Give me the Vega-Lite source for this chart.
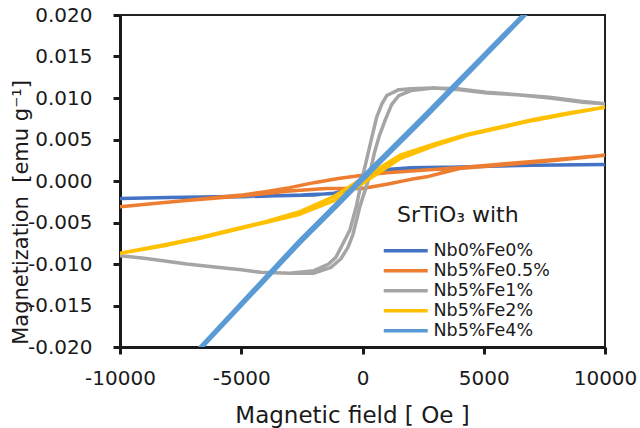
{
  "$schema": "https://vega.github.io/schema/vega-lite/v6.json",
  "width": 485,
  "height": 332,
  "autosize": "none",
  "padding": {"left": 120, "top": 15, "right": 35, "bottom": 81},
  "background": "white",
  "config": {
    "font": "DejaVu Sans",
    "view": {"stroke": "#222222", "strokeWidth": 2},
    "axis": {
      "grid": false,
      "domainColor": "#1a1a1a",
      "domainWidth": 3,
      "tickColor": "#1a1a1a",
      "tickWidth": 3,
      "tickSize": 7,
      "labelColor": "#1a1a1a",
      "labelFontSize": 20,
      "titleColor": "#1a1a1a",
      "titleFontSize": 22,
      "titleFontWeight": "normal"
    }
  },
  "data": {
    "values": [
      {"s":"Nb0%Fe0%","i":0,"h":-10000,"m":-0.0021},
      {"s":"Nb0%Fe0%","i":1,"h":-8000,"m":-0.0020},
      {"s":"Nb0%Fe0%","i":2,"h":-6000,"m":-0.0019},
      {"s":"Nb0%Fe0%","i":3,"h":-4000,"m":-0.0018},
      {"s":"Nb0%Fe0%","i":4,"h":-2000,"m":-0.0017},
      {"s":"Nb0%Fe0%","i":5,"h":-1000,"m":-0.0014},
      {"s":"Nb0%Fe0%","i":6,"h":-500,"m":-0.0010},
      {"s":"Nb0%Fe0%","i":7,"h":-200,"m":-0.0005},
      {"s":"Nb0%Fe0%","i":8,"h":0,"m":-0.0001},
      {"s":"Nb0%Fe0%","i":9,"h":300,"m":0.0007},
      {"s":"Nb0%Fe0%","i":10,"h":600,"m":0.0011},
      {"s":"Nb0%Fe0%","i":11,"h":1000,"m":0.0013},
      {"s":"Nb0%Fe0%","i":12,"h":2000,"m":0.0015},
      {"s":"Nb0%Fe0%","i":13,"h":4000,"m":0.0017},
      {"s":"Nb0%Fe0%","i":14,"h":7000,"m":0.0019},
      {"s":"Nb0%Fe0%","i":15,"h":10000,"m":0.0020},
      {"s":"Nb0%Fe0%","i":16,"h":7000,"m":0.0019},
      {"s":"Nb0%Fe0%","i":17,"h":4000,"m":0.0017},
      {"s":"Nb0%Fe0%","i":18,"h":2000,"m":0.0016},
      {"s":"Nb0%Fe0%","i":19,"h":1000,"m":0.0014},
      {"s":"Nb0%Fe0%","i":20,"h":500,"m":0.0011},
      {"s":"Nb0%Fe0%","i":21,"h":200,"m":0.0006},
      {"s":"Nb0%Fe0%","i":22,"h":0,"m":0.0002},
      {"s":"Nb0%Fe0%","i":23,"h":-300,"m":-0.0005},
      {"s":"Nb0%Fe0%","i":24,"h":-700,"m":-0.0011},
      {"s":"Nb0%Fe0%","i":25,"h":-1200,"m":-0.0015},
      {"s":"Nb0%Fe0%","i":26,"h":-2500,"m":-0.0017},
      {"s":"Nb0%Fe0%","i":27,"h":-5000,"m":-0.0019},
      {"s":"Nb0%Fe0%","i":28,"h":-8000,"m":-0.0020},
      {"s":"Nb0%Fe0%","i":29,"h":-10000,"m":-0.0021},

      {"s":"Nb5%Fe0.5%","i":0,"h":-10000,"m":-0.0031},
      {"s":"Nb5%Fe0.5%","i":1,"h":-7500,"m":-0.0024},
      {"s":"Nb5%Fe0.5%","i":2,"h":-5000,"m":-0.0018},
      {"s":"Nb5%Fe0.5%","i":3,"h":-3000,"m":-0.0012},
      {"s":"Nb5%Fe0.5%","i":4,"h":-1500,"m":-0.0009},
      {"s":"Nb5%Fe0.5%","i":5,"h":0,"m":-0.0009},
      {"s":"Nb5%Fe0.5%","i":6,"h":1000,"m":-0.0004},
      {"s":"Nb5%Fe0.5%","i":7,"h":2000,"m":0.0002},
      {"s":"Nb5%Fe0.5%","i":8,"h":2650,"m":0.0005},
      {"s":"Nb5%Fe0.5%","i":9,"h":3300,"m":0.0010},
      {"s":"Nb5%Fe0.5%","i":10,"h":4000,"m":0.0015},
      {"s":"Nb5%Fe0.5%","i":11,"h":6000,"m":0.0020},
      {"s":"Nb5%Fe0.5%","i":12,"h":8000,"m":0.0025},
      {"s":"Nb5%Fe0.5%","i":13,"h":10000,"m":0.0031},
      {"s":"Nb5%Fe0.5%","i":14,"h":8000,"m":0.0026},
      {"s":"Nb5%Fe0.5%","i":15,"h":6000,"m":0.0021},
      {"s":"Nb5%Fe0.5%","i":16,"h":4000,"m":0.0016},
      {"s":"Nb5%Fe0.5%","i":17,"h":2000,"m":0.0012},
      {"s":"Nb5%Fe0.5%","i":18,"h":1000,"m":0.0010},
      {"s":"Nb5%Fe0.5%","i":19,"h":0,"m":0.0007},
      {"s":"Nb5%Fe0.5%","i":20,"h":-1000,"m":0.0003},
      {"s":"Nb5%Fe0.5%","i":21,"h":-2000,"m":-0.0002},
      {"s":"Nb5%Fe0.5%","i":22,"h":-3000,"m":-0.0008},
      {"s":"Nb5%Fe0.5%","i":23,"h":-4000,"m":-0.0013},
      {"s":"Nb5%Fe0.5%","i":24,"h":-5000,"m":-0.0017},
      {"s":"Nb5%Fe0.5%","i":25,"h":-7500,"m":-0.0024},
      {"s":"Nb5%Fe0.5%","i":26,"h":-10000,"m":-0.0031},

      {"s":"Nb5%Fe1%","i":0,"h":-10000,"m":-0.0090},
      {"s":"Nb5%Fe1%","i":1,"h":-9000,"m":-0.0093},
      {"s":"Nb5%Fe1%","i":2,"h":-8000,"m":-0.0097},
      {"s":"Nb5%Fe1%","i":3,"h":-7250,"m":-0.0100},
      {"s":"Nb5%Fe1%","i":4,"h":-6000,"m":-0.0104},
      {"s":"Nb5%Fe1%","i":5,"h":-5000,"m":-0.0107},
      {"s":"Nb5%Fe1%","i":6,"h":-4230,"m":-0.0110},
      {"s":"Nb5%Fe1%","i":7,"h":-3000,"m":-0.0111},
      {"s":"Nb5%Fe1%","i":8,"h":-2000,"m":-0.0111},
      {"s":"Nb5%Fe1%","i":9,"h":-1300,"m":-0.0104},
      {"s":"Nb5%Fe1%","i":10,"h":-900,"m":-0.0094},
      {"s":"Nb5%Fe1%","i":11,"h":-600,"m":-0.0080},
      {"s":"Nb5%Fe1%","i":12,"h":-400,"m":-0.0065},
      {"s":"Nb5%Fe1%","i":13,"h":-100,"m":-0.0030},
      {"s":"Nb5%Fe1%","i":14,"h":240,"m":0.0001},
      {"s":"Nb5%Fe1%","i":15,"h":500,"m":0.0035},
      {"s":"Nb5%Fe1%","i":16,"h":700,"m":0.0055},
      {"s":"Nb5%Fe1%","i":17,"h":930,"m":0.0073},
      {"s":"Nb5%Fe1%","i":18,"h":1200,"m":0.0092},
      {"s":"Nb5%Fe1%","i":19,"h":1500,"m":0.0103},
      {"s":"Nb5%Fe1%","i":20,"h":2000,"m":0.0109},
      {"s":"Nb5%Fe1%","i":21,"h":2930,"m":0.0112},
      {"s":"Nb5%Fe1%","i":22,"h":4020,"m":0.0110},
      {"s":"Nb5%Fe1%","i":23,"h":5140,"m":0.0106},
      {"s":"Nb5%Fe1%","i":24,"h":6380,"m":0.0104},
      {"s":"Nb5%Fe1%","i":25,"h":7730,"m":0.0100},
      {"s":"Nb5%Fe1%","i":26,"h":9090,"m":0.0095},
      {"s":"Nb5%Fe1%","i":27,"h":10000,"m":0.0093},
      {"s":"Nb5%Fe1%","i":28,"h":9000,"m":0.0096},
      {"s":"Nb5%Fe1%","i":29,"h":7700,"m":0.0101},
      {"s":"Nb5%Fe1%","i":30,"h":6400,"m":0.0104},
      {"s":"Nb5%Fe1%","i":31,"h":5100,"m":0.0107},
      {"s":"Nb5%Fe1%","i":32,"h":4000,"m":0.0111},
      {"s":"Nb5%Fe1%","i":33,"h":2900,"m":0.0112},
      {"s":"Nb5%Fe1%","i":34,"h":2000,"m":0.0111},
      {"s":"Nb5%Fe1%","i":35,"h":1500,"m":0.0110},
      {"s":"Nb5%Fe1%","i":36,"h":1000,"m":0.0103},
      {"s":"Nb5%Fe1%","i":37,"h":800,"m":0.0093},
      {"s":"Nb5%Fe1%","i":38,"h":585,"m":0.0077},
      {"s":"Nb5%Fe1%","i":39,"h":300,"m":0.0042},
      {"s":"Nb5%Fe1%","i":40,"h":-30,"m":0.0001},
      {"s":"Nb5%Fe1%","i":41,"h":-250,"m":-0.0030},
      {"s":"Nb5%Fe1%","i":42,"h":-520,"m":-0.0059},
      {"s":"Nb5%Fe1%","i":43,"h":-850,"m":-0.0078},
      {"s":"Nb5%Fe1%","i":44,"h":-1100,"m":-0.0092},
      {"s":"Nb5%Fe1%","i":45,"h":-1400,"m":-0.0100},
      {"s":"Nb5%Fe1%","i":46,"h":-2000,"m":-0.0108},
      {"s":"Nb5%Fe1%","i":47,"h":-3000,"m":-0.0111},
      {"s":"Nb5%Fe1%","i":48,"h":-4200,"m":-0.0110},
      {"s":"Nb5%Fe1%","i":49,"h":-5000,"m":-0.0107},
      {"s":"Nb5%Fe1%","i":50,"h":-6000,"m":-0.0104},
      {"s":"Nb5%Fe1%","i":51,"h":-7250,"m":-0.0100},
      {"s":"Nb5%Fe1%","i":52,"h":-8000,"m":-0.0097},
      {"s":"Nb5%Fe1%","i":53,"h":-9000,"m":-0.0093},
      {"s":"Nb5%Fe1%","i":54,"h":-10000,"m":-0.0090},

      {"s":"Nb5%Fe2%","i":0,"h":-10000,"m":-0.0087},
      {"s":"Nb5%Fe2%","i":1,"h":-8000,"m":-0.0077},
      {"s":"Nb5%Fe2%","i":2,"h":-6700,"m":-0.0069},
      {"s":"Nb5%Fe2%","i":3,"h":-5000,"m":-0.0057},
      {"s":"Nb5%Fe2%","i":4,"h":-4000,"m":-0.0050},
      {"s":"Nb5%Fe2%","i":5,"h":-2580,"m":-0.0040},
      {"s":"Nb5%Fe2%","i":6,"h":-1200,"m":-0.0024},
      {"s":"Nb5%Fe2%","i":7,"h":0,"m":-0.0003},
      {"s":"Nb5%Fe2%","i":8,"h":1550,"m":0.0027},
      {"s":"Nb5%Fe2%","i":9,"h":3000,"m":0.0043},
      {"s":"Nb5%Fe2%","i":10,"h":4300,"m":0.0055},
      {"s":"Nb5%Fe2%","i":11,"h":5500,"m":0.0063},
      {"s":"Nb5%Fe2%","i":12,"h":7050,"m":0.0073},
      {"s":"Nb5%Fe2%","i":13,"h":8500,"m":0.0081},
      {"s":"Nb5%Fe2%","i":14,"h":10000,"m":0.0089},
      {"s":"Nb5%Fe2%","i":15,"h":8500,"m":0.0082},
      {"s":"Nb5%Fe2%","i":16,"h":7050,"m":0.0074},
      {"s":"Nb5%Fe2%","i":17,"h":5500,"m":0.0064},
      {"s":"Nb5%Fe2%","i":18,"h":4300,"m":0.0056},
      {"s":"Nb5%Fe2%","i":19,"h":3000,"m":0.0045},
      {"s":"Nb5%Fe2%","i":20,"h":1550,"m":0.0031},
      {"s":"Nb5%Fe2%","i":21,"h":0,"m":0.0003},
      {"s":"Nb5%Fe2%","i":22,"h":-1200,"m":-0.0019},
      {"s":"Nb5%Fe2%","i":23,"h":-2580,"m":-0.0037},
      {"s":"Nb5%Fe2%","i":24,"h":-4000,"m":-0.0049},
      {"s":"Nb5%Fe2%","i":25,"h":-5000,"m":-0.0056},
      {"s":"Nb5%Fe2%","i":26,"h":-6700,"m":-0.0068},
      {"s":"Nb5%Fe2%","i":27,"h":-8000,"m":-0.0076},
      {"s":"Nb5%Fe2%","i":28,"h":-10000,"m":-0.0087},

      {"s":"Nb5%Fe4%","i":0,"h":-10000,"m":-0.0301},
      {"s":"Nb5%Fe4%","i":1,"h":-6630,"m":-0.0201},
      {"s":"Nb5%Fe4%","i":2,"h":-2580,"m":-0.0075},
      {"s":"Nb5%Fe4%","i":3,"h":-1000,"m":-0.0029},
      {"s":"Nb5%Fe4%","i":4,"h":0,"m":0.0001},
      {"s":"Nb5%Fe4%","i":5,"h":1000,"m":0.0030},
      {"s":"Nb5%Fe4%","i":6,"h":2580,"m":0.0076},
      {"s":"Nb5%Fe4%","i":7,"h":6680,"m":0.0199},
      {"s":"Nb5%Fe4%","i":8,"h":10000,"m":0.0300},
      {"s":"Nb5%Fe4%","i":9,"h":6680,"m":0.0202},
      {"s":"Nb5%Fe4%","i":10,"h":2580,"m":0.0080},
      {"s":"Nb5%Fe4%","i":11,"h":1000,"m":0.0034},
      {"s":"Nb5%Fe4%","i":12,"h":0,"m":0.0005},
      {"s":"Nb5%Fe4%","i":13,"h":-1000,"m":-0.0025},
      {"s":"Nb5%Fe4%","i":14,"h":-2580,"m":-0.0071},
      {"s":"Nb5%Fe4%","i":15,"h":-6630,"m":-0.0198},
      {"s":"Nb5%Fe4%","i":16,"h":-10000,"m":-0.0300}
    ]
  },
  "mark": {"type": "line", "strokeWidth": 3.5, "clip": true, "strokeJoin": "round", "strokeCap": "round"},
  "encoding": {
    "x": {
      "field": "h",
      "type": "quantitative",
      "scale": {"domain": [-10000, 10000], "nice": false, "zero": false},
      "axis": {
        "title": "Magnetic field [ Oe ]",
        "values": [-10000, -5000, 0, 5000, 10000],
        "format": "d",
        "labelExpr": "replace(datum.label, '\u2212', '-')",
        "labelPadding": 14,
        "titleFontSize": 23,
        "titlePadding": 16,
        "titleX": 232,
        "titleAlign": "center",
        "labelFlush": false
      }
    },
    "y": {
      "field": "m",
      "type": "quantitative",
      "scale": {"domain": [-0.02, 0.02], "nice": false, "zero": false},
      "axis": {
        "title": "Magnetization\u00a0 [emu g\u207b\u00b9]",
        "values": [-0.02, -0.015, -0.01, -0.005, 0, 0.005, 0.01, 0.015, 0.02],
        "format": ".3f",
        "labelExpr": "replace(datum.label, '\u2212', '-')",
        "labelPadding": 21,
        "titleFontSize": 21,
        "titleAngle": -90,
        "titleX": -99,
        "titleY": 197,
        "titleAlign": "center",
        "titleBaseline": "middle"
      }
    },
    "color": {
      "field": "s",
      "type": "nominal",
      "scale": {
        "domain": ["Nb0%Fe0%", "Nb5%Fe0.5%", "Nb5%Fe1%", "Nb5%Fe2%", "Nb5%Fe4%"],
        "range": ["#4472C4", "#ED7D31", "#A5A5A5", "#FFC000", "#5B9BD5"]
      },
      "legend": {
        "title": "SrTiO\u2083 with",
        "orient": "none",
        "legendX": 277,
        "legendY": 190,
        "padding": 0,
        "titleFontSize": 22,
        "titleFontWeight": "normal",
        "titleColor": "#1a1a1a",
        "titlePadding": 15,
        "symbolType": "M-4,0H4",
        "symbolSize": 121,
        "symbolStrokeWidth": 3.5,
        "labelFontSize": 17.5,
        "labelColor": "#1a1a1a",
        "labelOffset": 19,
        "rowPadding": 1
      }
    },
    "order": {"field": "i", "type": "quantitative"}
  }
}
